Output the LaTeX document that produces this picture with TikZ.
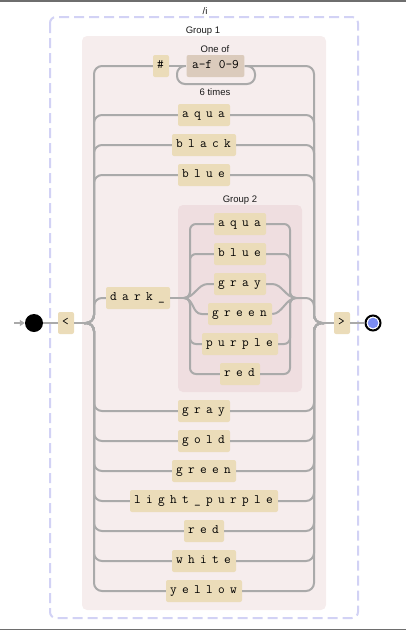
\documentclass[tikz,border=0pt]{standalone}
\usepackage{fontspec}
\setmainfont{Liberation Sans}
\usetikzlibrary{calc,arrows.meta}
\makeatletter
\newcommand\spacedtxt[1]{\@tfor\tk:=#1\do{\makebox[12pt][l]{\hspace{2.2pt}\tk}}}
\makeatother
\definecolor{railc}{HTML}{AAAAAA}
\definecolor{termc}{HTML}{EBDCB9}
\definecolor{rngc}{HTML}{DBCBBC}
\definecolor{gonec}{HTML}{F6EDED}
\definecolor{gtwoc}{HTML}{EFDEE0}
\definecolor{dashc}{HTML}{D2D2F5}
\definecolor{endc}{HTML}{7B8CF2}
\definecolor{framec}{HTML}{6E6E6E}
\begin{document}
\begin{tikzpicture}[x=1pt,y=-1pt,
  rail/.style={draw=railc, line width=2pt, rounded corners=8pt},
  railb/.style={draw=railc, line width=2pt, rounded corners=6pt},
  curv/.style={draw=railc, line width=2pt},
  term/.style={fill=termc, rounded corners=2pt, font=\ttfamily\fontsize{13}{15}\selectfont,
    inner xsep=2pt, inner ysep=0pt, minimum height=22pt, text height=8.5pt, text depth=3pt, text=black},
  lbl/.style={font=\fontsize{9.5}{11}\selectfont, inner sep=0pt, text=black!90}]
\useasboundingbox (0,0) rectangle (406,630);
% screen frame lines
\draw[draw=framec, line width=1.5pt] (0,0.75) -- (406,0.75);
\draw[draw=framec, line width=1.5pt] (0,629.25) -- (406,629.25);
% groups
\draw[draw=dashc, line width=2pt, dash pattern=on 10pt off 5pt, rounded corners=6pt] (50,17) rectangle (358,618);
\node[lbl] (ti) at (205,11) {/i};
\fill[gonec, rounded corners=5pt] (82,36) rectangle (326,610);
\node[lbl] (g1l) at (203,31) {Group 1};
\fill[gtwoc, rounded corners=5pt] (178,205) rectangle (302,392);
\node[lbl] (g2l) at (240,200) {Group 2};
\node[lbl] (oneof) at (215,49) {One of};
\node[lbl] (six) at (215,92) {6 times};
% coordinates
\coordinate (in) at (14,323);
\coordinate (sL) at (84,323);
\coordinate (rL) at (94,323);
\coordinate (rR) at (314,323);
\coordinate (jR) at (324,323);
\coordinate (s2) at (184,298);
\coordinate (r2L) at (190,298);
\coordinate (r2R) at (290,298);
\coordinate (j2) at (296,298);
\coordinate (lpL) at (177,66);
\coordinate (lpR) at (255,66);
% nodes
\node[circle, fill=black, minimum size=18pt, inner sep=0pt] (start) at (34,323) {};
\node[circle, draw=black, line width=2pt, fill=white, minimum size=15pt, inner sep=0pt] (end) at (373,323) {};
\fill[endc] (end.center) circle (5.3);
\node[term] (lt) at (66,323) {\spacedtxt{<}};
\node[term] (gt) at (342,323) {\spacedtxt{>}};
\node[term] (hash) at (161,66) {\spacedtxt{\#}};
\node[term, fill=rngc, inner xsep=5.5pt] (rng) at (215.5,66) {a-f 0-9};
\node[term] (aqua) at (204,115) {\spacedtxt{aqua}};
\node[term] (black) at (204,145) {\spacedtxt{black}};
\node[term] (blue) at (204,175) {\spacedtxt{blue}};
\node[term] (dark) at (138,298) {\spacedtxt{dark\_}};
\node[term] (aqua2) at (240,224) {\spacedtxt{aqua}};
\node[term] (blue2) at (240,254) {\spacedtxt{blue}};
\node[term] (gray2) at (240,284) {\spacedtxt{gray}};
\node[term] (green2) at (240,314) {\spacedtxt{green}};
\node[term] (purple2) at (240,344) {\spacedtxt{purple}};
\node[term] (red2) at (240,374) {\spacedtxt{red}};
\node[term] (gray) at (204,411) {\spacedtxt{gray}};
\node[term] (gold) at (204,441) {\spacedtxt{gold}};
\node[term] (green) at (204,471) {\spacedtxt{green}};
\node[term] (lpurple) at (204,501) {\spacedtxt{light\_purple}};
\node[term] (red) at (204,531) {\spacedtxt{red}};
\node[term] (white) at (204,561) {\spacedtxt{white}};
\node[term] (yellow) at (204,591) {\spacedtxt{yellow}};
% main line
\draw[curv, -{Triangle[length=5pt,width=6pt]}] (in) -- (start.west);
\draw[rail] (start) -- (lt);
\draw[rail] (lt) -- (sL);
\draw[rail] (jR) -- (gt);
\draw[rail] (gt) -- (end);
% hash row
\draw[rail] (sL) -| (rL|-hash) -- (hash.west);
\draw[rail] (hash.east) -- (rng.west);
\draw[rail] (rng.east) -| (rR) -- (jR);
\draw[rail] ($(lpR)+(-8,0)$) -- (lpR) -- ++(0,18) -| (lpL) -- ++(8,0);
% simple rows
\foreach \n in {aqua,black,blue,gray,gold,green,lpurple,red,white,yellow}{
  \draw[rail] (sL) -| (rL|-\n) -- (\n.west);
  \draw[rail] (\n.east) -| (rR) -- (jR);
}
% dark row
\draw[rail] (sL) -| (rL|-dark) -- (dark.west);
\draw[rail] (dark.east) -- (s2);
\draw[rail] (j2) -| (rR) -- (jR);
% group 2
\foreach \n in {aqua2,blue2,purple2,red2}{
  \draw[railb] (s2) -| (r2L|-\n) -- (\n.west);
  \draw[railb] (\n.east) -| (r2R) -- (j2);
}
\draw[curv] (s2) .. controls +(10,0) and +(-10,0) .. ($(gray2.west)+(-6,0)$) -- (gray2.west);
\draw[curv] (s2) .. controls +(10,0) and +(-10,0) .. ($(green2.west)+(-6,0)$) -- (green2.west);
\draw[curv] (gray2.east) -- ++(6,0) .. controls +(10,0) and +(-10,0) .. (j2);
\draw[curv] (green2.east) .. controls +(10,0) and +(-10,0) .. (j2);
\end{tikzpicture}
\end{document}
